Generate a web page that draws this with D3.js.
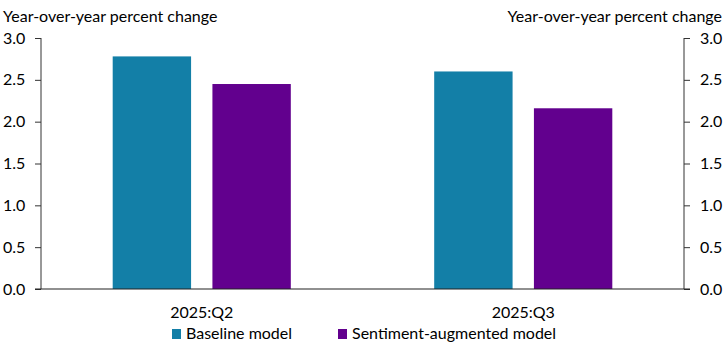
<!DOCTYPE html>
<html>
<head>
<meta charset="utf-8">
<script src="https://cdn.jsdelivr.net/npm/d3@7"></script>
<style>
  body { margin: 0; background: #fff; }
  text { font-family: Lato, "Open Sans", sans-serif; fill: #000; }
</style>
</head>
<body>
<div id="chart"></div>
<script>
// data
const quarters = ["2025:Q2", "2025:Q3"];
const seriesNames = ["Baseline model", "Sentiment-augmented model"];
const baseline = [2.78, 2.6];
const sentiment = [2.45, 2.16];
const yTicks = [0, 0.5, 1, 1.5, 2, 2.5, 3];
const colors = ["#137fa7", "#62008e"];

const W = 725, H = 351;
const margin = { top: 38, right: 41, bottom: 62, left: 41 };
const width = W - margin.left - margin.right;
const height = H - margin.top - margin.bottom;

const svg = d3.select("#chart").append("svg")
    .attr("width", W)
    .attr("height", H)
    .append("g")
    .attr("transform", `translate(${margin.left},${margin.top})`);

const rows = quarters.map((q, i) => ({ q, values: [baseline[i], sentiment[i]] }));

const x0 = d3.scaleBand().domain(quarters).range([0, width])
    .paddingInner(0.446).paddingOuter(0.223);
const x1 = d3.scaleBand().domain(seriesNames).range([0, x0.bandwidth()])
    .paddingInner(0.214).paddingOuter(0);
const y = d3.scaleLinear().domain([0, 3]).range([height, 0]);

// bars
svg.selectAll("g.grp")
    .data(rows)
    .join("g")
    .attr("class", "grp")
    .attr("transform", d => `translate(${x0(d.q)},0)`)
    .selectAll("rect")
    .data(d => d.values.map((v, k) => ({ name: seriesNames[k], v, k })))
    .join("rect")
    .attr("x", d => x1(d.name))
    .attr("y", d => y(d.v))
    .attr("width", x1.bandwidth())
    .attr("height", d => height - y(d.v))
    .attr("fill", d => colors[d.k]);

// axes
const fmt = d3.format(".1f");
const left = svg.append("g")
    .call(d3.axisLeft(y).tickValues(yTicks).tickFormat(fmt).tickSize(6).tickPadding(11));
const right = svg.append("g")
    .attr("transform", `translate(${width},0)`)
    .call(d3.axisRight(y).tickValues(yTicks).tickFormat(fmt).tickSize(6).tickPadding(10));
[left, right].forEach(a => {
    a.select(".domain").attr("d", `M0,${y(3)}V${y(0)}`).attr("stroke", "#333");
    a.selectAll(".tick line").attr("stroke", "#333");
    a.selectAll("text").style("font-size", "16px").attr("fill", "#000");
});
left.selectAll("text").attr("text-anchor", "start").attr("x", -38);

// zero line
svg.append("line")
    .attr("x1", -6).attr("x2", width + 6)
    .attr("y1", y(0)).attr("y2", y(0))
    .attr("stroke", "#222").attr("stroke-width", 1.2);

// category labels
svg.append("g")
    .selectAll("text")
    .data(quarters)
    .join("text")
    .attr("x", d => x0(d) + x0.bandwidth() / 2)
    .attr("y", height + 29)
    .attr("text-anchor", "middle")
    .style("font-size", "16px")
    .text(d => d);

// unit titles
svg.append("text")
    .attr("x", -margin.left + 3).attr("y", -16)
    .style("font-size", "16px")
    .text("Year-over-year percent change");
svg.append("text")
    .attr("x", width + margin.right - 3).attr("y", -16)
    .attr("text-anchor", "end")
    .style("font-size", "16px")
    .text("Year-over-year percent change");

// legend
const legendX = [131, 297];
const leg = svg.append("g")
    .selectAll("g")
    .data(seriesNames)
    .join("g")
    .attr("transform", (d, i) => `translate(${legendX[i]},${height + 40})`);
leg.append("rect")
    .attr("width", 9).attr("height", 10)
    .attr("fill", (d, i) => colors[i]);
leg.append("text")
    .attr("x", 14).attr("y", 10)
    .style("font-size", "16px")
    .text(d => d);
</script>
</body>
</html>
